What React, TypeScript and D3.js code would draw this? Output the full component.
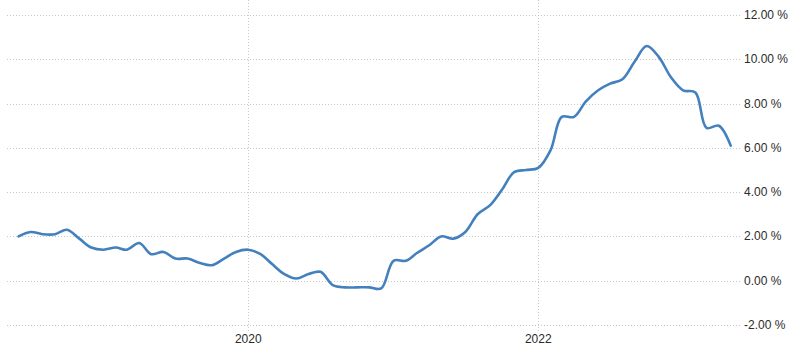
import { useRef, useEffect } from 'react';
import * as d3 from 'd3';

// monthly readings, Jun 2018 .. May 2023
const START_MONTH = '2018-06-01';
const RATES = [
  2.0, 2.2, 2.1, 2.1, 2.3, 1.9, 1.5,
  1.4, 1.5, 1.4, 1.7, 1.2, 1.3, 1.0, 1.0, 0.8, 0.7, 1.0, 1.3,
  1.4, 1.2, 0.75, 0.3, 0.1, 0.3, 0.4, -0.2, -0.3, -0.3, -0.3, -0.35,
  0.9, 0.9, 1.25, 1.6, 2.0, 1.9, 2.2, 3.0, 3.4, 4.1, 4.9, 5.0,
  5.1, 5.9, 7.4, 7.4, 8.1, 8.6, 8.9, 9.1, 9.9, 10.6, 10.1, 9.2,
  8.6, 8.5, 6.9, 7.0, 6.1,
];
const Y_TICKS = [-2, 0, 2, 4, 6, 8, 10, 12];
const X_TICKS = ['2020-01-01', '2022-01-01'];

export default function App() {
  const svgRef = useRef<SVGSVGElement>(null);

  useEffect(() => {
    const svg = d3.select(svgRef.current);
    svg.selectAll('*').remove();

    const parse = d3.utcParse('%Y-%m-%d');
    const t0 = parse(START_MONTH)!;
    const data = RATES.map((v, i) => ({ date: d3.utcMonth.offset(t0, i), v }));

    const x = d3.scaleUtc()
      .domain([parse('2020-01-01')!, parse('2022-01-01')!])
      .range([248.3, 538.3]);
    const y = d3.scaleLinear().domain([-2, 12]).range([325, 15]);

    const g = svg.append('g');

    // horizontal grid
    g.selectAll('line.h')
      .data(Y_TICKS)
      .join('line')
      .attr('class', 'h')
      .attr('x1', 7).attr('x2', 741)
      .attr('y1', d => Math.round(y(d)) + 0.5)
      .attr('y2', d => Math.round(y(d)) + 0.5)
      .attr('stroke', '#c8c8c8')
      .attr('stroke-dasharray', '1,2');

    // vertical grid
    g.selectAll('line.v')
      .data(X_TICKS.map(s => parse(s)!))
      .join('line')
      .attr('class', 'v')
      .attr('x1', d => Math.round(x(d)) + 0.5)
      .attr('x2', d => Math.round(x(d)) + 0.5)
      .attr('y1', 0).attr('y2', 331)
      .attr('stroke', '#c8c8c8')
      .attr('stroke-dasharray', '1,2');

    // y labels on the right
    g.selectAll('text.y')
      .data(Y_TICKS)
      .join('text')
      .attr('class', 'y')
      .attr('x', 744)
      .attr('y', d => y(d) + 4)
      .attr('fill', '#2b2b2b')
      .style('font-family', '"Liberation Sans", Arial, sans-serif')
      .style('font-size', '12px')
      .text(d => `${d.toFixed(2)} %`);

    // x labels
    g.selectAll('text.x')
      .data(X_TICKS.map(s => parse(s)!))
      .join('text')
      .attr('class', 'x')
      .attr('x', d => x(d))
      .attr('y', 343)
      .attr('text-anchor', 'middle')
      .attr('fill', '#2b2b2b')
      .style('font-family', '"Liberation Sans", Arial, sans-serif')
      .style('font-size', '12px')
      .text(d => d3.utcFormat('%Y')(d));

    const line = d3.line<{ date: Date; v: number }>()
      .x(d => x(d.date))
      .y(d => y(d.v))
      .curve(d3.curveCatmullRom.alpha(0.5));

    g.append('path')
      .datum(data)
      .attr('d', line)
      .attr('fill', 'none')
      .attr('stroke', '#4281bd')
      .attr('stroke-width', 2.6)
      .attr('stroke-linejoin', 'round')
      .attr('stroke-linecap', 'round');
  }, []);

  return (
    <div style={{ position: 'absolute', left: 0, top: 0, background: '#fff' }}>
      <svg ref={svgRef} width={800} height={354} style={{ display: 'block' }} />
    </div>
  );
}
